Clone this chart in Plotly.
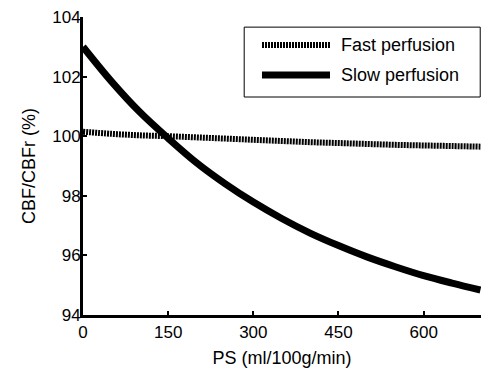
import plotly.graph_objects as go

ps = [0, 50, 100, 150, 200, 250, 300, 350, 400, 450, 500, 550, 600, 650, 700]
slow = [103.0, 101.84, 100.81, 99.93, 99.11, 98.41, 97.79, 97.24, 96.75, 96.33, 95.95, 95.62, 95.32, 95.07, 94.84]
fast = [100.15, 100.08, 100.03, 100.0, 99.96, 99.92, 99.88, 99.84, 99.8, 99.77, 99.74, 99.71, 99.69, 99.67, 99.65]
names = ["Fast perfusion", "Slow perfusion"]

fast_line = dict(color="black", width=6, dash="2px,1px")
slow_line = dict(color="black", width=7)

fig = go.Figure()
fig.add_trace(go.Scatter(x=ps, y=fast, mode="lines", name=names[0],
                         line=dict(**fast_line, shape="spline")))
fig.add_trace(go.Scatter(x=ps, y=slow, mode="lines", name=names[1],
                         line=dict(**slow_line, shape="spline")))

fam = "Liberation Sans, Arial, sans-serif"

# legend box drawn in paper coordinates (so it can reach the right edge)
fig.add_shape(type="rect", xref="paper", yref="paper", x0=0.405, x1=0.998, y0=0.7315, y1=0.966,
              line=dict(color="black", width=1), fillcolor="white", layer="above")
for yy, ln, nm in [(0.906, fast_line, names[0]), (0.805, slow_line, names[1])]:
    fig.add_shape(type="line", xref="paper", yref="paper", x0=0.4497, x1=0.6206, y0=yy, y1=yy,
                  line=ln, layer="above")
    fig.add_annotation(xref="paper", yref="paper", x=0.643, y=yy, text=nm, showarrow=False,
                       xanchor="left", yanchor="middle",
                       font=dict(family=fam, size=18, color="black"))

fig.update_layout(
    width=483, height=374,
    margin=dict(l=83, r=2, t=17, b=59),
    paper_bgcolor="white", plot_bgcolor="white",
    font=dict(family=fam, size=17, color="black"),
    showlegend=False,
    xaxis=dict(range=[0, 701], tickvals=[0, 150, 300, 450, 600],
               showline=True, linecolor="black", linewidth=3,
               ticks="inside", ticklen=4, tickwidth=2, tickcolor="black",
               showgrid=False, zeroline=False, automargin=False,
               ticklabeloverflow="allow",
               tickfont=dict(size=17),
               title=dict(text="PS (ml/100g/min)", standoff=10, font=dict(size=18))),
    yaxis=dict(range=[94, 104], tickvals=[94, 96, 98, 100, 102, 104],
               showline=True, linecolor="black", linewidth=3,
               ticks="inside", ticklen=4, tickwidth=2, tickcolor="black",
               showgrid=False, zeroline=False, automargin=False,
               ticklabeloverflow="allow", ticklabelstandoff=-4,
               tickfont=dict(size=17),
               title=dict(text="CBF/CBFr (%)", standoff=12, font=dict(size=18))),
)
fig.write_html("out.html",
               post_script="document.body.style.margin='0';document.body.style.overflow='hidden';",
               config={"displayModeBar": False})
